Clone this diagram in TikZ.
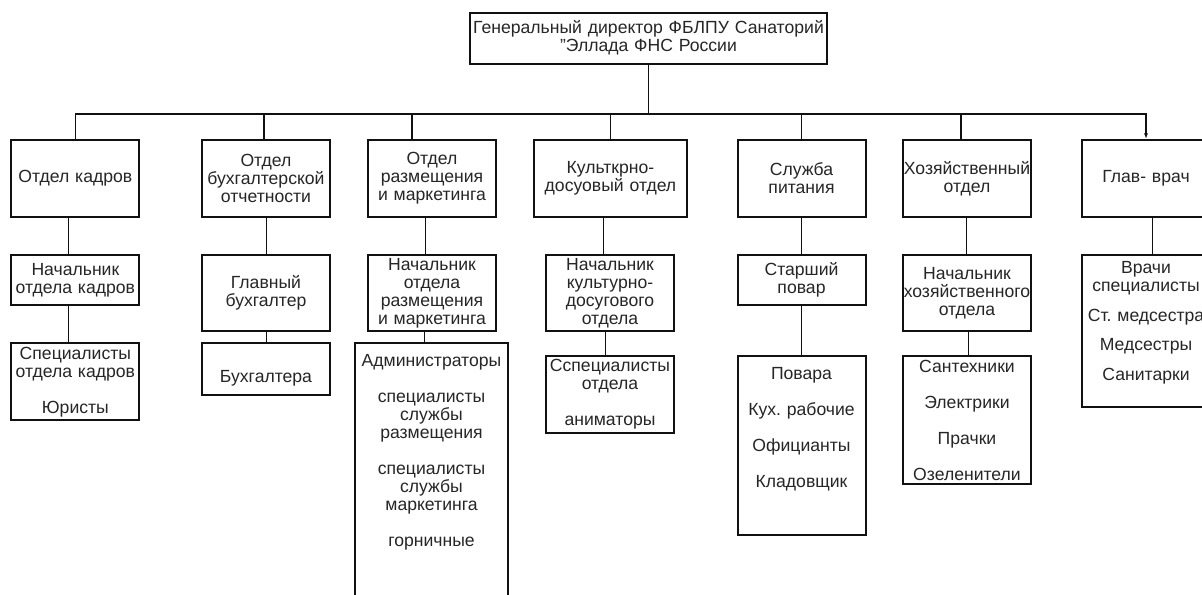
\documentclass[tikz,border=0pt]{standalone}
\usepackage{fontspec}
\setmainfont{Liberation Sans}
\usetikzlibrary{arrows.meta,positioning,calc}
\definecolor{ink}{HTML}{111111}
\definecolor{txtgray}{HTML}{262626}
\newcommand{\boxfont}{\fontsize{13.2pt}{13.5pt}\selectfont\frenchspacing}

\begin{document}
\begin{tikzpicture}[x=0.75pt,y=-0.75pt,
  box/.style={draw=ink,line width=1.5pt,inner xsep=0pt,inner ysep=1pt,align=center,
    text width=96pt,minimum height=57.75pt,font=\boxfont,text=txtgray},
  txt/.style={inner sep=0pt,align=center,text width=96pt,font=\boxfont,text=txtgray},
  bus/.style={draw=ink,line width=1.1pt},
  link/.style={draw=ink,line width=0.75pt}]
  \useasboundingbox (0,0) rectangle (1202,594);
  \fill[white] (0,0) rectangle (1202,594);
  % director
  \node[box,text width=267.75pt,minimum height=38.25pt] (dir) at (648.5,38)
    {Генеральный директор ФБЛПУ Санаторий\\"Эллада ФНС России};
  % departments
  \node[box] (kadr) at (75.4,178.3) {Отдел кадров};
  \node[box] (buh) at (266,178.3) {Отдел\\бухгалтерской\\отчетности};
  \node[box] (razm) at (432,178.3) {Отдел\\размещения\\и маркетинга};
  \node[box,text width=114.75pt] (kult) at (610.5,178.3) {Культкрно-\\досуовый отдел};
  \node[box] (pit) at (801.5,178.3) {Служба\\питания};
  \node[box] (hoz) at (967,178.3) {Хозяйственный\\отдел};
  \node[box] (vrach) at (1146,178.3) {Глав- врач};
  % heads
  \node[box,minimum height=37.5pt] (kadr2) at (75.4,280) {Начальник\\отдела кадров};
  \node[box,minimum height=57pt] (buh2) at (266,293) {Главный\\бухгалтер};
  \node[box,minimum height=57pt] (razm2) at (432,293) {Начальник\\отдела\\размещения\\и маркетинга};
  \node[box,minimum height=57pt] (kult2) at (610,293) {Начальник\\культурно-\\досугового\\отдела};
  \node[box,minimum height=37.5pt] (pit2) at (801.5,280) {Старший\\повар};
  \node[box,minimum height=57pt] (hoz2) at (967,293) {Начальник\\хозяйственного\\отдела};
  \node[box,minimum height=114pt] (vrach2) at (1146,331) {};
  \node[txt,below=5.5pt of vrach2.north] (vrach2t)
    {Врачи\\специалисты\\[8.6pt]Ст. медсестра\\[8.6pt]Медсестры\\[8.6pt]Санитарки};
  % staff
  \node[box] (kadr3) at (75.4,381.7) {Специалисты\\отдела кадров\\[13.5pt]Юристы};
  \node[box,minimum height=39pt] (buh3) at (266,369) {\strut\\Бухгалтера};
  \node[box,text width=114.75pt,minimum height=210pt] (razm3) at (431.5,483) {};
  \node[txt,text width=114.75pt,below=8.8pt of razm3.north] (razm3t)
    {Администраторы\\[13.5pt]специалисты\\службы\\размещения\\[13.5pt]специалисты\\службы\\маркетинга\\[13.5pt]горничные};
  \node[box] (kult3) at (610,394.5) {Сспециалисты\\отдела\\[13.5pt]аниматоры};
  \node[box,minimum height=134.25pt] (pit3) at (801.5,445.5)
    {Повара\\[13.5pt]Кух. рабочие\\[13.5pt]Официанты\\[13.5pt]Кладовщик\\[13.5pt]\mbox{}};
  \node[box,minimum height=96pt] (hoz3) at (967,420)
    {Сантехники\\[13.5pt]Электрики\\[13.5pt]Прачки\\[13.5pt]Озеленители};
  % director to departments
  \coordinate (j) at (dir.south |- 0,114);
  \draw[bus] (dir.south) -- (j);
  \draw[bus] (j) -| (kadr.north);
  \draw[bus] (j) -| ([xshift=-1.5pt]buh.north);
  \draw[bus] (j) -| ([xshift=-15pt]razm.north);
  \draw[bus] (j) -| (kult.north);
  \draw[bus] (j) -| (pit.north);
  \draw[bus] (j) -| ([xshift=-4.5pt]hoz.north);
  \draw[bus,-{Latex[length=4pt,width=3pt]}] (j) -| (vrach.north);
  % departments to heads
  \draw[link] ([xshift=-5.25pt]kadr.south) -- ([xshift=-5.25pt]kadr.south |- kadr2.north);
  \draw[link] (buh.south) -- (buh2.north);
  \draw[link] ([xshift=-5.25pt]razm.south) -- ([xshift=-5.25pt]razm.south |- razm2.north);
  \draw[link] ([xshift=-5.6pt]kult.south) -- ([xshift=-5.6pt]kult.south |- kult2.north);
  \draw[link] (pit.south) -- (pit2.north);
  \draw[link] ([xshift=-0.75pt]hoz.south) -- ([xshift=-0.75pt]hoz.south |- hoz2.north);
  \draw[link] ([xshift=4.5pt]vrach.south) -- ([xshift=4.5pt]vrach.south |- vrach2.north);
  % heads to staff
  \draw[link] ([xshift=-5.25pt]kadr2.south) -- ([xshift=-5.25pt]kadr2.south |- kadr3.north);
  \draw[link] (buh2.south) -- (buh3.north);
  \draw[link] ([xshift=-6pt]razm2.south) -- ([xshift=-6pt]razm2.south |- razm3.north);
  \draw[link] ([xshift=-3.75pt]kult2.south) -- ([xshift=-3.75pt]kult2.south |- kult3.north);
  \draw[link] (pit2.south) -- (pit3.north);
  \draw[link] ([xshift=0.75pt]hoz2.south) -- ([xshift=0.75pt]hoz2.south |- hoz3.north);
\end{tikzpicture}
\end{document}
